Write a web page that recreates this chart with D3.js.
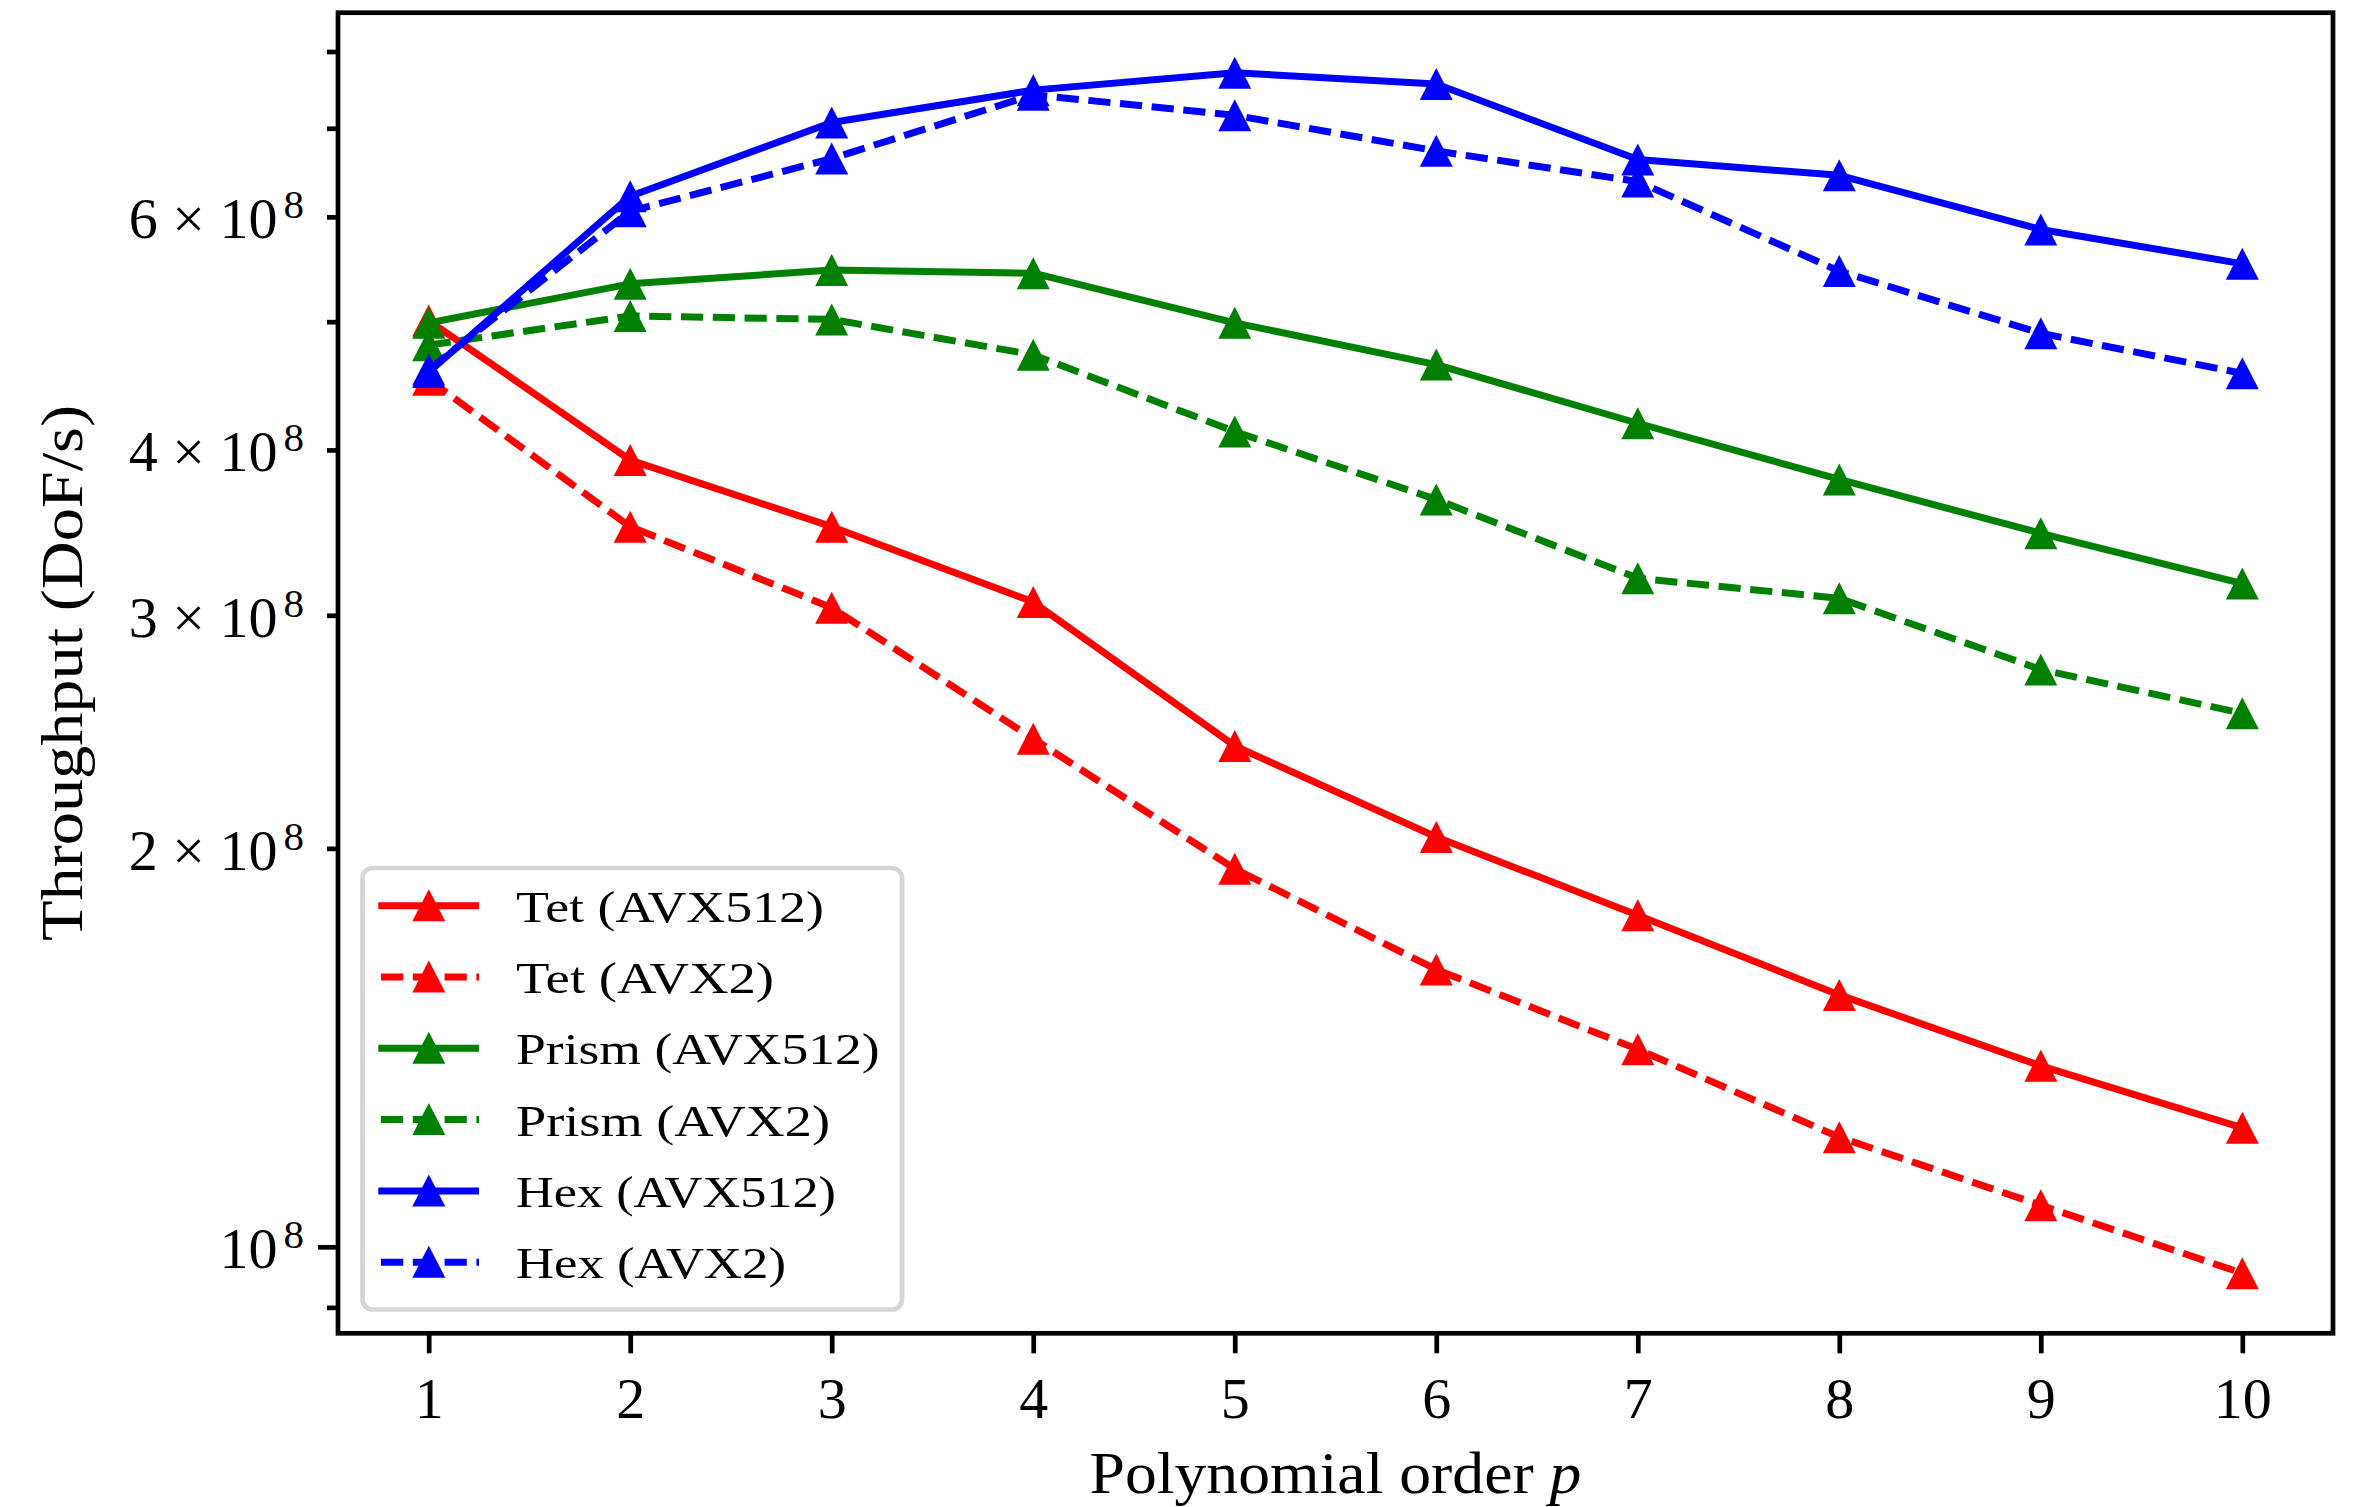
<!DOCTYPE html>
<html>
<head>
<meta charset="utf-8">
<script src="https://d3js.org/d3.v7.min.js"></script>
<style>
    body { margin: 0; background: #ffffff; }
    text { font-family: "Liberation Serif", "DejaVu Serif", serif; fill: #000000; }
</style>
</head>
<body>
<svg id="drawing_region"></svg>
<script>
// polynomial orders on the x axis
const orders = [1, 2, 3, 4, 5, 6, 7, 8, 9, 10];

// throughput, DoF/s
const tetAvx512   = [5.01e8, 3.93e8, 3.50e8, 3.07e8, 2.39e8, 2.04e8, 1.78e8, 1.55e8, 1.37e8, 1.23e8];
const tetAvx2     = [4.52e8, 3.50e8, 3.04e8, 2.42e8, 1.93e8, 1.62e8, 1.41e8, 1.21e8, 1.075e8, 0.955e8];
const prismAvx512 = [4.99e8, 5.34e8, 5.47e8, 5.44e8, 4.99e8, 4.64e8, 4.19e8, 3.80e8, 3.46e8, 3.17e8];
const prismAvx2   = [4.80e8, 5.05e8, 5.02e8, 4.72e8, 4.13e8, 3.67e8, 3.20e8, 3.09e8, 2.73e8, 2.53e8];
const hexAvx512   = [4.58e8, 6.22e8, 7.07e8, 7.48e8, 7.71e8, 7.56e8, 6.63e8, 6.45e8, 5.87e8, 5.53e8];
const hexAvx2     = [4.60e8, 6.06e8, 6.64e8, 7.42e8, 7.16e8, 6.73e8, 6.38e8, 5.46e8, 4.90e8, 4.57e8];

const seriesLabels = ['Tet (AVX512)', 'Tet (AVX2)', 'Prism (AVX512)', 'Prism (AVX2)', 'Hex (AVX512)', 'Hex (AVX2)'];

// axis ticks
const xTickValues = [1, 2, 3, 4, 5, 6, 7, 8, 9, 10];
const yTickValues = [9e7, 1e8, 2e8, 3e8, 4e8, 5e8, 6e8, 7e8, 8e8];
const yLabelValues = [1e8, 2e8, 3e8, 4e8, 6e8];
const yLabelMantissas = ['', '2', '3', '4', '6'];
const yLabelExponent = '8';

const series = [
    { label: seriesLabels[0], values: tetAvx512,   color: '#ff0000', dashed: false },
    { label: seriesLabels[1], values: tetAvx2,     color: '#ff0000', dashed: true },
    { label: seriesLabels[2], values: prismAvx512, color: '#008000', dashed: false },
    { label: seriesLabels[3], values: prismAvx2,   color: '#008000', dashed: true },
    { label: seriesLabels[4], values: hexAvx512,   color: '#0000ff', dashed: false },
    { label: seriesLabels[5], values: hexAvx2,     color: '#0000ff', dashed: true }
];

const config = {
    width: 2361,
    height: 1507,
    margin: { top: 12.7, right: 28, bottom: 173.7, left: 338 }
};

const lineWidth = 7;
const dashPattern = '22.2,9.6';
const spineWidth = 4.7;
const triangle = 'M0,-16L16.5,16L-16.5,16Z';

const svg = d3.select('#drawing_region')
    .attr('width', config.width)
    .attr('height', config.height);

const inner_width = config.width - config.margin.left - config.margin.right;
const inner_height = config.height - config.margin.top - config.margin.bottom;

const chart = svg.append('g')
    .attr('transform', `translate(${config.margin.left}, ${config.margin.top})`);

// matplotlib style 5% margins (log space for y)
const xmin = d3.min(orders), xmax = d3.max(orders);
const xpad = 0.05 * (xmax - xmin);
const xscale = d3.scaleLinear()
    .domain([xmin - xpad, xmax + xpad])
    .range([0, inner_width]);

const allValues = series.flatMap(s => s.values);
const lmin = Math.log10(d3.min(allValues)), lmax = Math.log10(d3.max(allValues));
const lpad = 0.05 * (lmax - lmin);
const yscale = d3.scaleLog()
    .domain([Math.pow(10, lmin - lpad), Math.pow(10, lmax + lpad)])
    .range([inner_height, 0]);

// clip
chart.append('clipPath').attr('id', 'plot_clip')
    .append('rect')
    .attr('width', inner_width)
    .attr('height', inner_height);

// x axis
const xaxis = d3.axisBottom(xscale)
    .tickValues(xTickValues)
    .tickSize(20)
    .tickSizeOuter(0)
    .tickFormat(d3.format('d'));

const xaxis_group = chart.append('g')
    .attr('transform', `translate(0, ${inner_height})`)
    .call(xaxis);
xaxis_group.select('.domain').remove();
xaxis_group.attr('font-family', null).attr('font-size', 58);
xaxis_group.selectAll('line').attr('stroke-width', spineWidth);
xaxis_group.selectAll('text').attr('y', 84.4).attr('dy', null);

// y axis (log)
const yaxis = d3.axisLeft(yscale)
    .tickValues(yTickValues)
    .tickSize(11)
    .tickSizeOuter(0)
    .tickFormat(() => '');

const yaxis_group = chart.append('g').call(yaxis);
yaxis_group.select('.domain').remove();
yaxis_group.attr('font-family', null).attr('font-size', 58);
yaxis_group.selectAll('line')
    .attr('stroke-width', spineWidth)
    .attr('x2', d => (d === 1e8 ? -20 : -11));
yaxis_group.selectAll('.tick text').remove();
yaxis_group.selectAll('.tick')
    .filter(d => yLabelValues.includes(d))
    .append('text')
    .attr('x', -34)
    .attr('y', 21)
    .attr('text-anchor', 'end')
    .each(function(d) {
        const m = yLabelMantissas[yLabelValues.indexOf(d)];
        const t = d3.select(this);
        t.append('tspan').text(m === '' ? '10' : `${m} × 10`);
        t.append('tspan')
            .attr('dx', 6)
            .attr('dy', -20)
            .attr('font-size', 41)
            .text(yLabelExponent);
    });

// lines + markers
const line = d3.line()
    .x((d, i) => xscale(orders[i]))
    .y(d => yscale(d));

const plot = chart.append('g').attr('clip-path', 'url(#plot_clip)');

series.forEach(s => {
    const g = plot.append('g');
    g.append('path')
        .datum(s.values)
        .attr('d', line)
        .attr('fill', 'none')
        .attr('stroke', s.color)
        .attr('stroke-width', lineWidth)
        .attr('stroke-linejoin', 'round')
        .attr('stroke-linecap', s.dashed ? 'butt' : 'square')
        .attr('stroke-dasharray', s.dashed ? dashPattern : null);
    g.selectAll('path.marker')
        .data(s.values)
        .join('path')
        .attr('class', 'marker')
        .attr('d', triangle)
        .attr('transform', (d, i) => `translate(${xscale(orders[i])}, ${yscale(d)})`)
        .attr('fill', s.color);
});

// frame
chart.append('rect')
    .attr('width', inner_width)
    .attr('height', inner_height)
    .attr('fill', 'none')
    .attr('stroke', '#000000')
    .attr('stroke-width', spineWidth);

// axis labels
svg.append('text')
    .attr('x', config.margin.left + inner_width / 2)
    .attr('y', 1493)
    .attr('text-anchor', 'middle')
    .attr('font-size', 60)
    .attr('textLength', 492)
    .attr('lengthAdjust', 'spacingAndGlyphs')
    .call(t => {
        t.append('tspan').text('Polynomial order ');
        t.append('tspan').attr('font-style', 'italic').text('p');
    });

svg.append('text')
    .attr('transform', `translate(82.3, ${config.margin.top + inner_height / 2}) rotate(-90)`)
    .attr('text-anchor', 'middle')
    .attr('font-size', 60)
    .attr('textLength', 536)
    .attr('lengthAdjust', 'spacingAndGlyphs')
    .text('Throughput (DoF/s)');

// legend
const legendTextLengths = [308, 258, 363.6, 314, 320, 270];
const legend = svg.append('g');
legend.append('rect')
    .attr('x', 362.5)
    .attr('y', 868)
    .attr('width', 539.5)
    .attr('height', 441.5)
    .attr('rx', 10)
    .attr('fill', '#ffffff')
    .attr('fill-opacity', 0.8)
    .attr('stroke', '#cccccc')
    .attr('stroke-opacity', 0.8)
    .attr('stroke-width', spineWidth);

series.forEach((s, i) => {
    const cy = 905.7 + i * 71.3;
    const row = legend.append('g');
    row.append('line')
        .attr('x1', s.dashed ? 381 : 378.3)
        .attr('x2', 479)
        .attr('y1', cy)
        .attr('y2', cy)
        .attr('stroke', s.color)
        .attr('stroke-width', lineWidth)
        .attr('stroke-dasharray', s.dashed ? dashPattern : null);
    row.append('path')
        .attr('d', triangle)
        .attr('transform', `translate(428.8, ${cy - 0.5})`)
        .attr('fill', s.color);
    row.append('text')
        .attr('x', 516)
        .attr('y', cy + 16)
        .attr('font-size', 45)
        .attr('textLength', legendTextLengths[i])
        .attr('lengthAdjust', 'spacingAndGlyphs')
        .text(s.label);
});
</script>
</body>
</html>
